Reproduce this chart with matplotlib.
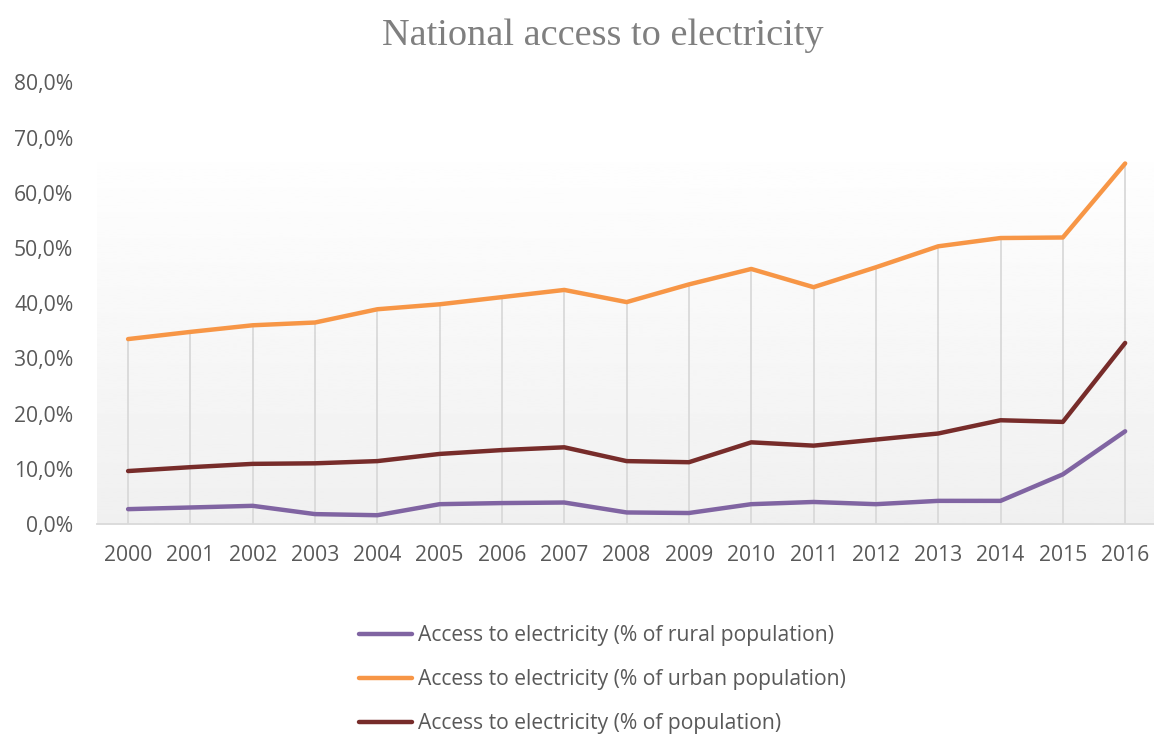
import numpy as np
import matplotlib
matplotlib.use("Agg")
import matplotlib.pyplot as plt
from matplotlib.ticker import FuncFormatter

# data (percent)
years = [str(y) for y in range(2000, 2017)]
rural = [2.7, 3.0, 3.3, 1.8, 1.6, 3.6, 3.8, 3.9, 2.1, 2.0, 3.6, 4.0, 3.6, 4.2, 4.2, 9.0, 16.8]
urban = [33.5, 34.8, 36.0, 36.5, 38.9, 39.8, 41.1, 42.4, 40.2, 43.4, 46.2, 42.9, 46.5, 50.3, 51.8, 51.9, 65.3]
total = [9.6, 10.3, 10.9, 11.0, 11.4, 12.7, 13.4, 13.9, 11.4, 11.2, 14.8, 14.2, 15.3, 16.4, 18.8, 18.5, 32.8]

labels = ["Access to electricity (% of rural population)",
          "Access to electricity (% of urban population)",
          "Access to electricity (% of population)"]
colors = ["#8064a2", "#f79646", "#772c2a"]

plt.rcParams['font.family'] = ['Open Sans', 'DejaVu Sans']

fig = plt.figure(figsize=(11.54, 7.35), dpi=100)
ax = fig.add_axes([0.084, 0.287, 0.918, 0.601])

x = np.arange(len(years))
ax.set_xlim(-0.5, len(years) - 0.5)
ax.set_ylim(0, 80)

# soft background gradient in the plot area
grad = np.linspace(0.94, 1.0, 256).reshape(-1, 1)
ax.imshow(grad, cmap='gray', vmin=0, vmax=1, aspect='auto', origin='lower',
          extent=[-0.5, len(years) - 0.5, 0, 70], zorder=0)

# drop lines from the highest series down to the axis
top = np.max([rural, urban, total], axis=0)
ax.vlines(x, 0, top, color="#d9d9d9", lw=1.3, zorder=1)

for vals, lab, c in zip([rural, urban, total], labels, colors):
    ax.plot(x, vals, color=c, lw=3.2, label=lab, solid_capstyle='round',
            solid_joinstyle='round', zorder=3)

ax.set_xticks(x)
ax.set_xticklabels(years)
ax.set_yticks(np.arange(0, 81, 10))
ax.yaxis.set_major_formatter(FuncFormatter(lambda v, p: f"{v:.1f}%".replace(".", ",")))
ax.tick_params(axis='both', length=0, labelsize=15.2, colors="#595959")
ax.tick_params(axis='x', pad=15)
ax.tick_params(axis='y', pad=17)

for s in ["top", "right", "left"]:
    ax.spines[s].set_visible(False)
ax.spines["bottom"].set_color("#d9d9d9")
ax.spines["bottom"].set_linewidth(1.3)

fig.text(0.522, 0.952, "National access to electricity", ha='center', va='center',
         fontsize=27.5, color="#7f7f7f", family=['Liberation Serif', 'DejaVu Serif'])

leg = fig.legend(loc='upper center', bbox_to_anchor=(0.522, 0.175), frameon=False,
                 fontsize=15.2, labelspacing=1.08, handlelength=2.5, handletextpad=0.3)
for t in leg.get_texts():
    t.set_color("#595959")

fig.savefig("out.png", dpi=100)
